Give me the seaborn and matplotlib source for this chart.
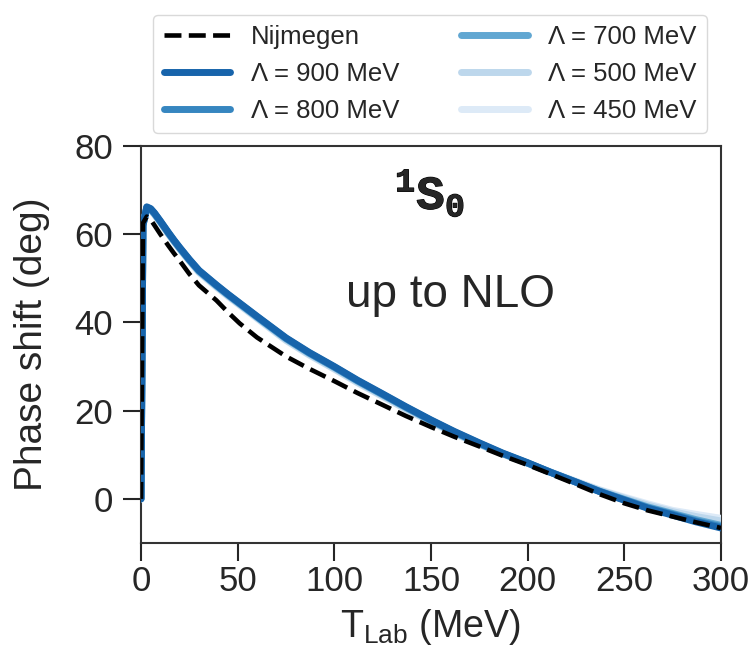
import numpy as np
import pandas as pd
import matplotlib
matplotlib.use('Agg')
import matplotlib.pyplot as plt
import matplotlib.patheffects as pe
import seaborn as sns

sns.set_style('ticks')
plt.rcParams['font.family'] = ['Liberation Sans', 'DejaVu Sans']
plt.rcParams['mathtext.default'] = 'regular'
plt.rcParams['mathtext.fontset'] = 'custom'
plt.rcParams['mathtext.tt'] = 'Liberation Mono:bold'

# 数据：1S0 相移 (deg) vs T_Lab (MeV)
T = [0, 1, 3, 5, 7, 10, 14, 17, 20, 25, 30, 39, 45, 51, 60, 75, 87, 100, 112, 125,
     137, 150, 162, 175, 187, 200, 212, 225, 237, 250, 262, 275, 287, 300]
nijmegen = [0, 62.5, 64.0, 63.3, 62.0, 60.0, 57.5, 55.7, 54.0, 51.0, 48.4, 45.0, 42.3,
            39.8, 36.6, 32.3, 29.5, 26.7, 24.0, 21.3, 18.8, 16.3, 14.1, 11.9, 9.8,
            7.7, 5.6, 3.3, 1.1, -1.0, -2.6, -4.0, -5.3, -6.6]
nlo_900 = [0, 62.0, 66.2, 65.8, 64.8, 63.0, 60.5, 58.7, 57.0, 54.3, 51.8, 48.5, 46.4,
           44.4, 41.4, 36.5, 33.2, 30.0, 26.9, 23.8, 20.9, 17.9, 15.3, 12.7, 10.4,
           8.2, 6.0, 3.8, 1.7, -0.3, -2.1, -3.7, -5.2, -6.6]
nlo_800 = [0, 62.0, 66.1, 65.7, 64.7, 62.9, 60.4, 58.6, 56.9, 54.2, 51.7, 48.4, 46.3,
           44.3, 41.3, 36.4, 33.1, 29.9, 26.8, 23.7, 20.8, 17.8, 15.2, 12.6, 10.3,
           8.1, 6.0, 3.8, 1.7, -0.2, -2.0, -3.5, -5.0, -6.3]
nlo_700 = [0, 62.0, 66.0, 65.6, 64.6, 62.8, 60.3, 58.5, 56.8, 54.1, 51.6, 48.3, 46.2,
           44.2, 41.2, 36.3, 33.0, 29.8, 26.7, 23.6, 20.7, 17.7, 15.1, 12.5, 10.3,
           8.1, 6.0, 3.8, 1.8, -0.1, -1.8, -3.3, -4.7, -6.0]
nlo_500 = [0, 62.0, 65.9, 65.5, 64.5, 62.7, 60.2, 58.4, 56.7, 54.0, 51.4, 48.1, 46.0,
           44.0, 41.0, 36.0, 32.7, 29.5, 26.4, 23.3, 20.4, 17.5, 14.9, 12.4, 10.2,
           8.1, 6.0, 3.9, 2.0, 0.2, -1.4, -2.9, -4.0, -5.0]
nlo_450 = [0, 62.0, 65.8, 65.4, 64.4, 62.6, 60.1, 58.3, 56.6, 53.9, 51.3, 48.0, 45.9,
           43.9, 40.9, 35.9, 32.6, 29.4, 26.3, 23.2, 20.3, 17.4, 14.8, 12.4, 10.2,
           8.1, 6.1, 4.0, 2.1, 0.4, -1.1, -2.6, -3.5, -4.4]
cutoffs = [900, 800, 700, 500, 450]
nlo = [nlo_900, nlo_800, nlo_700, nlo_500, nlo_450]

cmap = sns.color_palette('Blues', as_cmap=True)
shades = [0.80, 0.67, 0.53, 0.28, 0.13]

fig = plt.figure(figsize=(7.52, 6.57), dpi=100)
ax = fig.add_axes([0.1875, 0.1735, 0.7713, 0.6043])

# 浅色先画，深色在上
for i in range(len(cutoffs) - 1, -1, -1):
    df = pd.DataFrame({'T': T, 'delta': nlo[i]})
    sns.lineplot(data=df, x='T', y='delta', ax=ax, color=cmap(shades[i]), lw=5,
                 label='Λ = %d MeV' % cutoffs[i], zorder=2 + (5 - i))
df = pd.DataFrame({'T': T, 'delta': nijmegen})
sns.lineplot(data=df, x='T', y='delta', ax=ax, color='k', lw=3.3, ls='--',
             label='Nijmegen', zorder=10)

h, l = ax.get_legend_handles_labels()
ax.get_legend().remove()
order = ['Nijmegen'] + ['Λ = %d MeV' % c for c in cutoffs]
hh = [h[l.index(o)] for o in order]
fig.legend(hh, order, loc='upper center', bbox_to_anchor=(0.572, 0.997), ncol=2,
           fontsize=18.5, handlelength=2.6, handletextpad=0.8, columnspacing=2.4,
           frameon=True, edgecolor='#d0d0d0', borderpad=0.4, labelspacing=0.5)

ax.set_xlim(0, 300)
ax.set_ylim(-10, 80)
ax.set_xticks([0, 50, 100, 150, 200, 250, 300])
ax.set_yticks([0, 20, 40, 60, 80])
ax.tick_params(axis='both', labelsize=25, length=13, width=1.5, colors='.15')
ax.tick_params(axis='x', pad=3)
ax.tick_params(axis='y', pad=7)
for s in ax.spines.values():
    s.set_linewidth(1.5)
    s.set_color('.2')

ax.set_xlabel(r'T$_{Lab}$ (MeV)', fontsize=27, color='.15')
ax.set_ylabel('Phase shift (deg)', fontsize=28, color='.15')
ax.xaxis.set_label_coords(0.498, -0.16)
ax.yaxis.set_label_coords(-0.157, 0.5)

ax.text(0.533, 0.625, 'up to NLO', transform=ax.transAxes, fontsize=33,
        ha='center', va='center')
ax.text(0.498, 0.88, r'$\mathtt{^{1}S_{0}}$', transform=ax.transAxes,
        fontsize=34, ha='center', va='center',
        path_effects=[pe.withStroke(linewidth=0.8, foreground='k')])

fig.savefig('out.png', dpi=100)
